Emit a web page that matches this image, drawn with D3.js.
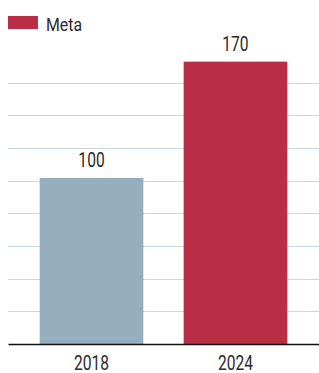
<!DOCTYPE html>
<html>
<head>
<meta charset="utf-8">
<script src="https://cdn.jsdelivr.net/npm/d3@7"></script>
<style>
    body { margin: 0; background: #fff; }
    text { font-family: "Roboto", "Liberation Sans", sans-serif; fill: #2a2a2a; }
</style>
</head>
<body>
<div id="chart"></div>
<script>
// Chart data
const years = ['2018', '2024'];
const values = [100, 170];
const barColors = ['#95afbe', '#b92d45'];
const legendLabels = ['Meta'];
const legendColors = ['#b92d45'];

// Gridlines: evenly spaced rows, no tick labels
const yMax = 177;
const gridRows = 9;

const width = 319;
const height = 373;
const margin = { top: 50, right: 0, bottom: 29, left: 8 };
// the source font is condensed, squeeze Roboto horizontally
const squeeze = 0.8;

const svg = d3.select('#chart')
    .append('svg')
    .attr('width', width)
    .attr('height', height);

const x = d3.scaleBand()
    .domain(years)
    .range([margin.left, width - margin.right])
    .paddingInner(0.28)
    .paddingOuter(0.22);

const y = d3.scaleLinear()
    .domain([0, yMax])
    .range([height - margin.bottom, margin.top]);

// Grid
const gridValues = d3.range(1, gridRows).map(i => i * yMax / gridRows);
svg.append('g')
    .selectAll('line')
    .data(gridValues)
    .join('line')
    .attr('x1', margin.left)
    .attr('x2', width - margin.right)
    .attr('y1', d => Math.round(y(d)) + 0.5)
    .attr('y2', d => Math.round(y(d)) + 0.5)
    .attr('stroke', '#c9d8e0')
    .attr('stroke-width', 1.2);

// Bars
svg.append('g')
    .selectAll('rect')
    .data(values)
    .join('rect')
    .attr('x', (d, i) => x(years[i]))
    .attr('y', d => y(d))
    .attr('width', x.bandwidth())
    .attr('height', d => y(0) - y(d))
    .attr('fill', (d, i) => barColors[i]);

// Value labels
svg.append('g')
    .selectAll('text')
    .data(values)
    .join('text')
    .attr('transform', (d, i) =>
        `translate(${x(years[i]) + x.bandwidth() / 2},${y(d) - 11}) scale(${squeeze},1)`)
    .attr('text-anchor', 'middle')
    .style('font-size', '19.5px')
    .text(d => d);

// Baseline + x axis
const xAxis = svg.append('g')
    .attr('transform', `translate(0,${y(0)})`)
    .call(d3.axisBottom(x).tickSize(0).tickPadding(0));
xAxis.select('.domain').attr('stroke', '#111').attr('stroke-width', 1.5);
xAxis.selectAll('.tick text')
    .attr('y', null)
    .attr('dy', null)
    .attr('transform', `translate(0,26) scale(${squeeze},1)`)
    .style('font-size', '19.5px')
    .style('font-family', '"Roboto", sans-serif')
    .attr('fill', '#2a2a2a');

// Legend
const legend = svg.append('g')
    .selectAll('g')
    .data(legendLabels)
    .join('g')
    .attr('transform', 'translate(8,16)');
legend.append('rect')
    .attr('width', 30)
    .attr('height', 13)
    .attr('fill', (d, i) => legendColors[i]);
legend.append('text')
    .attr('transform', `translate(38,14.5) scale(0.88,1)`)
    .style('font-size', '18px')
    .text(d => d);
</script>
</body>
</html>
